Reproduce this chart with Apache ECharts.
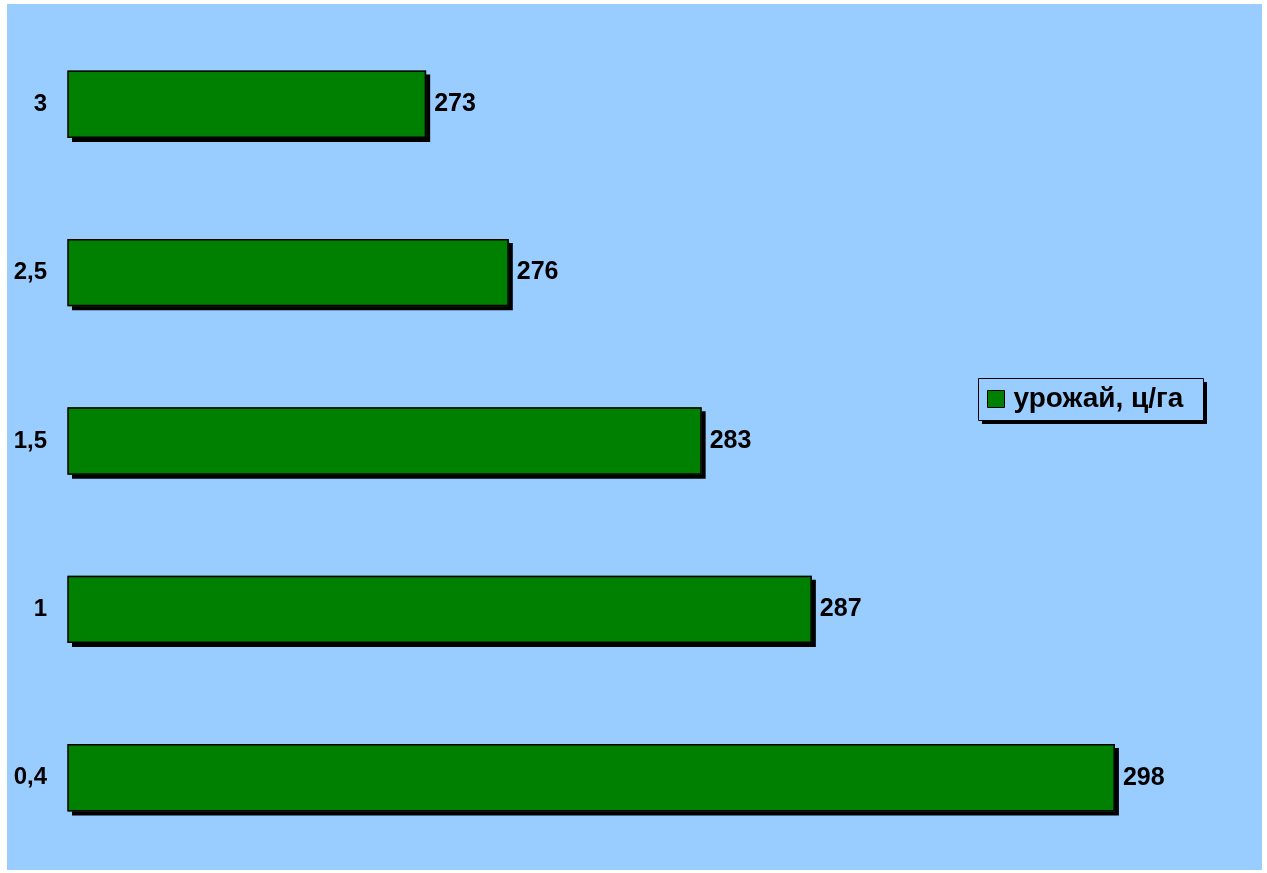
<!DOCTYPE html>
<html>
<head>
<meta charset="utf-8">
<script src="https://cdn.jsdelivr.net/npm/echarts@6/dist/echarts.min.js"></script>
<style>
html,body{margin:0;padding:0;background:#ffffff;}
#chart{width:1267px;height:873px;}
</style>
</head>
<body>
<div id="chart"></div>
<script>
const categories = ['0,4', '1', '1,5', '2,5', '3'];
const yieldValues = [298, 287, 283, 276, 273];
const seriesName = 'урожай, ц/га';

const FONT = '"Liberation Sans", Arial, sans-serif';
const chart = echarts.init(document.getElementById('chart'), null, {renderer: 'canvas'});
chart.setOption({
  animation: false,
  backgroundColor: '#ffffff',
  graphic: [{
    type: 'rect', z: -10, silent: true,
    shape: {x: 7, y: 4, width: 1255, height: 866},
    style: {fill: '#99CCFF'}
  }, {
    type: 'rect', z: 1, silent: true,
    shape: {x: 982, y: 382, width: 225, height: 42},
    style: {fill: '#000000'}
  }, {
    type: 'rect', z: 1, silent: true,
    shape: {x: 978.5, y: 378.5, width: 225, height: 42},
    style: {fill: '#99CCFF', stroke: '#000000', lineWidth: 1}
  }],
  grid: {left: 68, right: 97, top: 20, bottom: 11, containLabel: false},
  legend: {
    z: 10,
    left: 978, top: 378,
    data: [seriesName],
    icon: 'rect',
    itemWidth: 17, itemHeight: 17,
    padding: [7, 20, 7, 9],
    itemStyle: {color: '#008000', borderColor: '#000000', borderWidth: 1, shadowBlur: 0, shadowColor: 'rgba(0,0,0,0)', shadowOffsetX: 0, shadowOffsetY: 0},
    textStyle: {fontFamily: FONT, fontSize: 28, fontWeight: 'bold', color: '#000000', padding: [0, 0, 0, 4]}
  },
  xAxis: {
    type: 'value', min: 260, max: 300, interval: 10,
    show: false
  },
  yAxis: {
    type: 'category', data: categories,
    axisLine: {show: false}, axisTick: {show: false},
    axisLabel: {fontFamily: FONT, fontSize: 24, fontWeight: 'bold', color: '#000000', margin: 21},
    splitLine: {show: false}
  },
  series: [{
    name: seriesName,
    type: 'bar',
    data: yieldValues,
    barWidth: '40%',
    itemStyle: {
      color: '#008000', borderWidth: 0,
      shadowColor: '#000000', shadowBlur: 0, shadowOffsetX: 4, shadowOffsetY: 4
    }
  }, {
    name: 'outline',
    type: 'bar',
    data: yieldValues,
    barWidth: '40%',
    barGap: '-100%',
    silent: true,
    itemStyle: {color: 'rgba(0,0,0,0)', borderColor: '#000000', borderWidth: 1.5},
    label: {
      show: true, position: 'right', distance: 8,
      fontFamily: FONT, fontSize: 25, fontWeight: 'bold', color: '#000000'
    }
  }]
});
</script>
</body>
</html>
